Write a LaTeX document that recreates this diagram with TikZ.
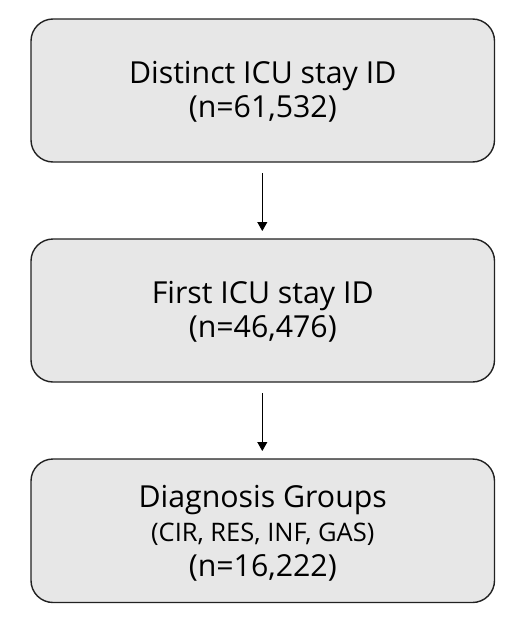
\documentclass[tikz,border=0pt]{standalone}
\usepackage{fontspec}
\setmainfont{Open Sans}
\usetikzlibrary{arrows.meta}
\definecolor{boxfill}{HTML}{E7E7E7}
\definecolor{boxline}{HTML}{222222}
\tikzset{
  flowbox/.style={draw=boxline, line width=1.4pt, fill=boxfill, rounded corners=22pt},
  bigtxt/.style={font=\fontsize{30.3}{34}\selectfont, align=center, anchor=base},
  smalltxt/.style={font=\fontsize{25.5}{28}\selectfont, align=center, anchor=base},
  flowarrow/.style={line width=0.8pt, -{Triangle[width=10pt,length=9pt]}}
}
\begin{document}
\begin{tikzpicture}[x=1pt,y=1pt]
\useasboundingbox (0,0) rectangle (526,-629);
% boxes
\draw[flowbox] (31,-19) rectangle (494.5,-162);
\draw[flowbox] (31,-239) rectangle (494.5,-382);
\draw[flowbox] (31,-459) rectangle (494.5,-602.5);
% texts
\node[bigtxt] (t1a) at (262.75,-83.3) {Distinct ICU stay ID};
\node[bigtxt] (t1b) at (262.75,-117.5) {(n=61,532)};
\node[bigtxt] (t2a) at (262.75,-303.3) {First ICU stay ID};
\node[bigtxt] (t2b) at (262.75,-337.5) {(n=46,476)};
\node[bigtxt] (t3a) at (262.75,-507.7) {Diagnosis Groups};
\node[smalltxt] (t3b) at (262.75,-541.7) {(CIR, RES, INF, GAS)};
\node[bigtxt] (t3c) at (262.75,-576) {(n=16,222)};
% arrows
\coordinate (a1s) at (262.3,-173);
\coordinate (a1e) at (262.3,-231);
\coordinate (a2s) at (262.3,-393);
\coordinate (a2e) at (262.3,-451);
\draw[flowarrow] (a1s) -- (a1e);
\draw[flowarrow] (a2s) -- (a2e);
\end{tikzpicture}
\end{document}
